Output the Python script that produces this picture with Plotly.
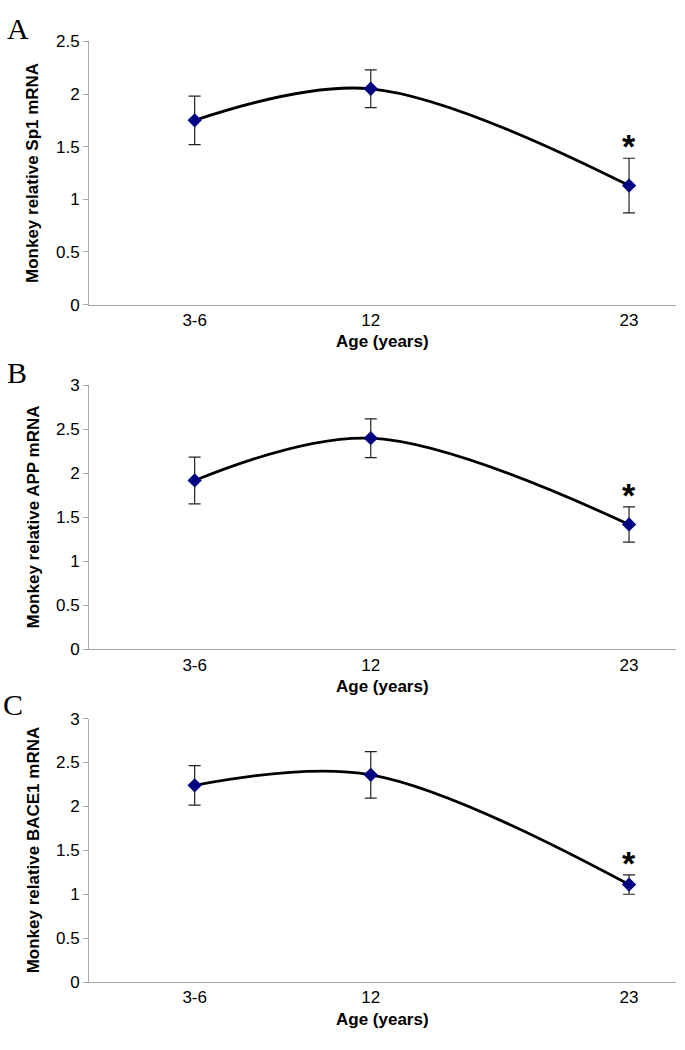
import plotly.graph_objects as go

# ---- data ----
ages = [4.5, 12, 23]
age_labels = ["3-6", "12", "23"]

sp1 = [1.75, 2.05, 1.13]
sp1_err = [0.23, 0.18, 0.26]

app = [1.92, 2.40, 1.42]
app_err = [0.265, 0.22, 0.20]

bace1 = [2.24, 2.36, 1.11]
bace1_err = [0.225, 0.265, 0.11]

panel_letters = ["A", "B", "C"]
y_titles = ["Monkey relative Sp1 mRNA", "Monkey relative APP mRNA", "Monkey relative BACE1 mRNA"]
y_max = [2.5, 3, 3]

W, H = 685, 1050
x_left, x_right = 89, 676
# pixel tops/bottoms of each plot area
tops = [33, 383.3, 722.7]
bottoms = [301, 652.3, 991]

def py(p):
    return 1 - p / H

fig = go.Figure()
series = [(sp1, sp1_err), (app, app_err), (bace1, bace1_err)]
AXIS_COLOR = "#a8a8a8"
FONT = "Arial, Liberation Sans, sans-serif"

annotations = []
for i, (vals, errs) in enumerate(series):
    sfx = "" if i == 0 else str(i + 1)
    fig.add_trace(go.Scatter(
        x=ages, y=vals,
        xaxis="x" + sfx, yaxis="y" + sfx,
        mode="lines+markers",
        line=dict(color="black", width=2.8, shape="spline", smoothing=1.0),
        marker=dict(symbol="diamond", color="#000080", size=11,
                    line=dict(width=0)),
        error_y=dict(type="data", array=errs, visible=True,
                     color="#222222", thickness=1.2, width=6),
        showlegend=False,
    ))
    xdom = [x_left / W, x_right / W]
    ydom = [py(bottoms[i]), py(tops[i])]
    fig.layout["xaxis" + sfx] = dict(
        domain=xdom, range=[0, 25], anchor="y" + sfx,
        tickmode="array", tickvals=ages, ticktext=age_labels,
        showline=True, linecolor=AXIS_COLOR, linewidth=1,
        ticks="", showgrid=False, zeroline=False,
        tickfont=dict(family=FONT, size=17, color="black"),
        fixedrange=True,
    )
    fig.layout["yaxis" + sfx] = dict(
        domain=ydom, range=[0, y_max[i]], anchor="x" + sfx,
        dtick=0.5, tick0=0,
        showline=True, linecolor=AXIS_COLOR, linewidth=1,
        ticks="outside", ticklen=5, tickcolor=AXIS_COLOR,
        showgrid=False, zeroline=False,
        tickfont=dict(family=FONT, size=17, color="black"),
        fixedrange=True,
    )
    # asterisk above last point
    annotations.append(dict(
        x=ages[2], y=vals[2] + errs[2], xref="x" + sfx, yref="y" + sfx,
        text="<b>*</b>", showarrow=False, yanchor="bottom", xanchor="center",
        yshift=-9, font=dict(family=FONT, size=34, color="black"),
    ))
    # y axis title
    annotations.append(dict(
        x=33 / W, y=py((tops[i] + bottoms[i]) / 2), xref="paper", yref="paper",
        text="<b>" + y_titles[i] + "</b>", textangle=-90, showarrow=False,
        xanchor="center", yanchor="middle",
        font=dict(family=FONT, size=17, color="black"),
    ))
    # x axis title
    annotations.append(dict(
        x=(x_left + x_right) / 2 / W, y=py(bottoms[i] + 38), xref="paper", yref="paper",
        text="<b>Age (years)</b>", showarrow=False,
        xanchor="center", yanchor="middle",
        font=dict(family=FONT, size=17, color="black"),
    ))

# panel letters
letter_pos = [(18, 20), (17, 370), (13, 708)]
for (lx, ly), letter in zip(letter_pos, panel_letters):
    annotations.append(dict(
        x=lx / W, y=py(ly), xref="paper", yref="paper",
        text=letter, showarrow=False, xanchor="center", yanchor="middle",
        font=dict(family="Liberation Serif, Times New Roman, serif", size=30, color="black"),
    ))

fig.update_layout(
    width=W, height=H,
    margin=dict(l=0, r=0, t=0, b=0),
    paper_bgcolor="white", plot_bgcolor="white",
    annotations=annotations,
    font=dict(family=FONT, color="black"),
)

fig.write_html("out.html",
               config={"displayModeBar": False},
               post_script="document.body.style.margin='0';document.body.style.overflow='hidden';")
